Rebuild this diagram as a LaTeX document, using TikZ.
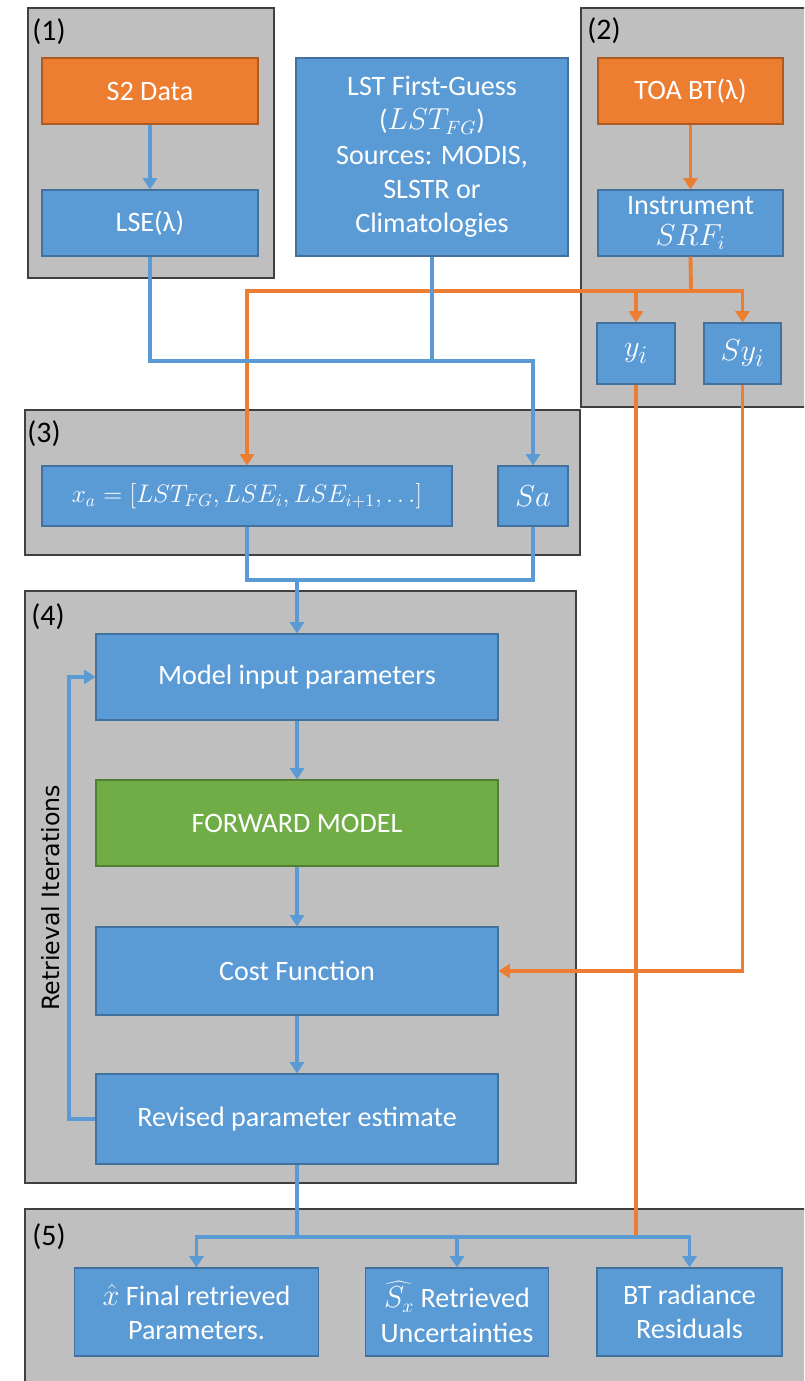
\documentclass[tikz,border=0pt]{standalone}
\usepackage{fontspec}
\setmainfont{Carlito}
\newfontfamily\sidefont{DejaVu Sans}
\usetikzlibrary{arrows.meta}
\definecolor{bfill}{HTML}{5B9BD5}
\definecolor{bedge}{HTML}{41719C}
\definecolor{ofill}{HTML}{ED7D31}
\definecolor{oedge}{HTML}{AE5A21}
\definecolor{gfill}{HTML}{70AD47}
\definecolor{gedge}{HTML}{507E32}
\definecolor{grey}{HTML}{BFBFBF}

\begin{document}
\begin{tikzpicture}[x=0.02cm, y=-0.02cm, font=\fontsize{16}{19.5}\selectfont,
 sz/.style 2 args={minimum width=#1*0.02cm, minimum height=#2*0.02cm},
 bx/.style={draw=bedge, fill=bfill, text=white, align=center, line width=.6pt, inner sep=2pt},
 obx/.style={bx, draw=oedge, fill=ofill},
 gbx/.style={bx, draw=gedge, fill=gfill},
 grp/.style={draw=black!75, fill=grey, line width=.9pt},
 lbl/.style={anchor=west, inner sep=0pt, font=\fontsize{17}{20}\selectfont},
 big/.style={font=\fontsize{19}{22}\selectfont},
 bl/.style={draw=bfill, line width=2.2pt},
 ol/.style={draw=ofill, line width=2.2pt},
 >={Triangle[width=8pt,length=6.5pt]}]
\useasboundingbox (0,0) rectangle (804,1381);
\clip (0,0) rectangle (804,1381);
% groups
\draw[grp] (28,8) rectangle (274,278);
\draw[grp] (581,8) rectangle (810,407);
\draw[grp] (25,410) rectangle (580,555);
\draw[grp] (25,591) rectangle (576,1183);
\draw[grp] (25,1209) rectangle (810,1390);
\node[lbl] (l1) at (32,32) {(1)};
\node[lbl] (l2) at (587,31) {(2)};
\node[lbl] (l3) at (27,434) {(3)};
\node[lbl] (l4) at (31,617) {(4)};
\node[lbl] (l5) at (32,1237) {(5)};
% boxes
\node[obx, sz={216}{66}] (s2) at (150,91) {S2 Data};
\node[bx, sz={216}{66}] (lse) at (150,223) {LSE(λ)};
\node[bx, sz={272}{198}] (lstfg) at (432,157) {LST First-Guess\\($LST_{FG}$)\\Sources: MODIS,\\SLSTR or\\Climatologies};
\node[obx, sz={185}{66}] (toa) at (690.5,91) {TOA BT(λ)};
\node[bx, sz={185}{66}] (srf) at (690.5,223) {Instrument\\[-2pt]$SRF_i$};
\node[bx, big, sz={78}{61}] (yi) at (636,353.5) {$y_i$};
\node[bx, big, sz={77}{61}] (syi) at (742.5,353.5) {$Sy_i$};
\node[bx, sz={410}{60}, font=\fontsize{14.5}{18}\selectfont] (xa) at (247,496)
 {$x_a = [LST_{FG}, LSE_i, LSE_{i+1}, \ldots]$};
\node[bx, big, sz={70}{60}] (sa) at (533,496) {$Sa$};
\node[bx, sz={402}{86}] (mip) at (297,677) {Model input parameters};
\node[gbx, sz={402}{86}] (fwd) at (297,823) {FORWARD MODEL};
\node[bx, sz={402}{88}] (cost) at (297,971) {Cost Function};
\node[bx, sz={402}{90}] (rev) at (297,1119) {Revised parameter estimate};
\node[bx, sz={244}{88}] (xhat) at (196.5,1312) {$\hat{x}$ Final retrieved\\Parameters.};
\node[bx, sz={183}{88}] (sxhat) at (457,1312) {$\widehat{S_x}$ Retrieved\\Uncertainties};
\node[bx, sz={185}{88}] (btres) at (689.5,1312) {BT radiance\\Residuals};
\node[rotate=90, inner sep=0pt, font=\sidefont\fontsize{13.5}{16}\selectfont] (iter) at (51,898) {Retrieval Iterations};
% junctions
\coordinate (ojoin) at (691,291);
\coordinate (bjoin) at (432,361);
\coordinate (ajoin) at (297,580);
\coordinate (rjoin) at (297,1237);
\coordinate (loopc) at (69,900);
% orange links
\draw[ol,->] (toa) -- (srf);
\draw[ol] (srf.south) -- (ojoin);
\draw[ol,->] (ojoin) -| (yi.north);
\draw[ol,->] (ojoin) -| (syi.north);
\draw[ol,->] (ojoin) -| (xa.north);
\draw[ol,->] (syi.south) |- (cost.east);
\draw[ol] (yi.south) -- (yi.south |- rjoin);
% blue links
\draw[bl,->] (s2) -- (lse);
\draw[bl,->] (lse.south) |- (bjoin) -| (sa.north);
\draw[bl] (lstfg.south) -- (bjoin);
\draw[bl] (xa.south) |- (ajoin) -| (sa.south);
\draw[bl,->] (ajoin) -- (mip.north);
\draw[bl,->] (mip) -- (fwd);
\draw[bl,->] (fwd) -- (cost);
\draw[bl,->] (cost) -- (rev);
\draw[bl,->] (rev.west) -| (loopc) |- (mip.west);
\draw[bl] (rev.south) -- (rjoin);
\foreach \n in {xhat,sxhat,btres}{\draw[bl,->] (rjoin) -| (\n.north);}
\end{tikzpicture}
\end{document}
